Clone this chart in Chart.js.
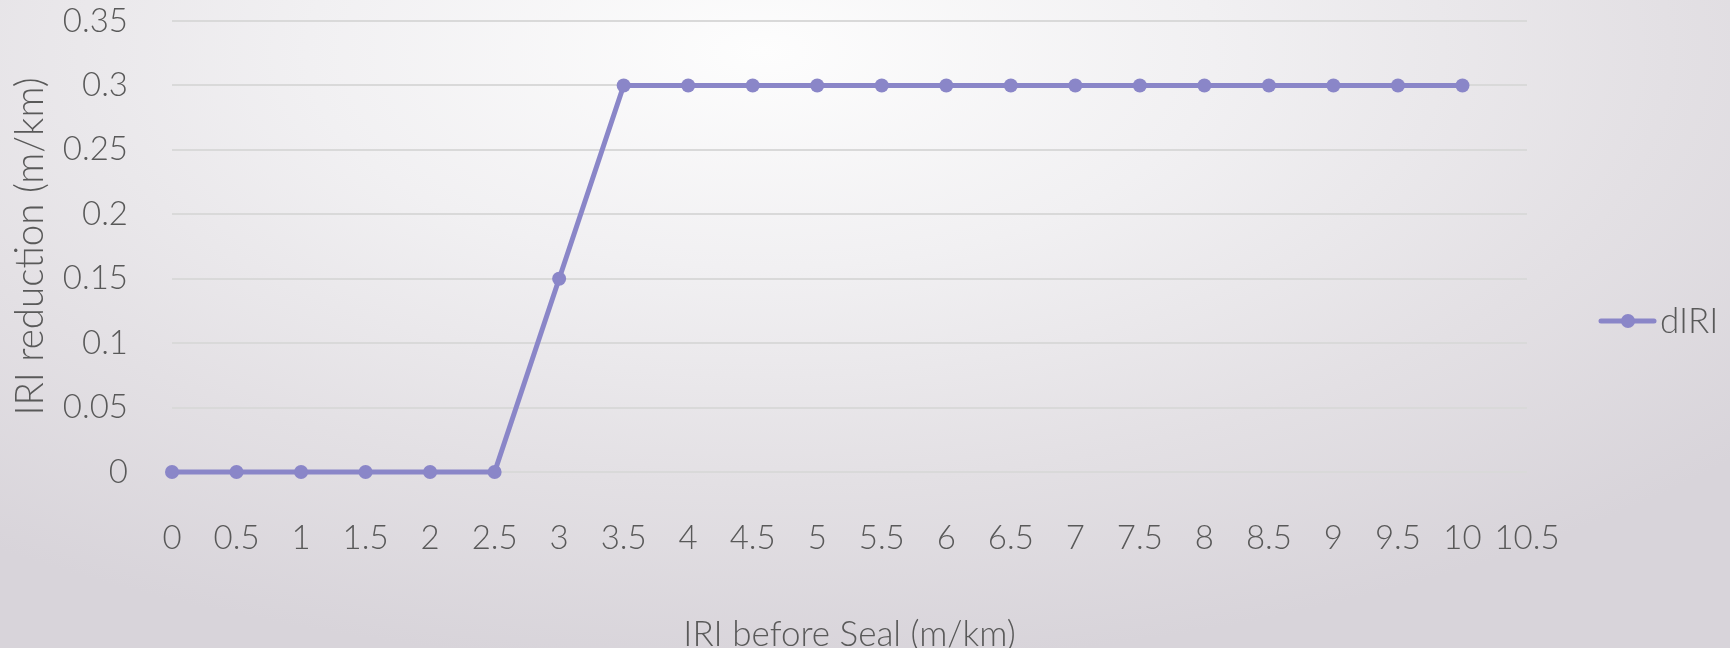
<!DOCTYPE html>
<html>
<head>
<meta charset="utf-8">
<script src="https://cdn.jsdelivr.net/npm/chart.js@4/dist/chart.umd.min.js"></script>
<style>
  html, body { margin: 0; padding: 0; }
  body {
    width: 1730px; height: 648px; overflow: hidden;
    background: radial-gradient(ellipse 75% 95% at 44% 8%, #fdfdfd 0%, #f1f0f2 35%, #e3e0e4 70%, #d8d4da 100%);
  }
  #wrap { position: relative; width: 1730px; height: 648px; }
</style>
</head>
<body>
<div id="wrap"><canvas id="chart" width="1730" height="648"></canvas></div>
<script>
// IRI before seal (m/km)
const iriBefore = [0, 0.5, 1, 1.5, 2, 2.5, 3, 3.5, 4, 4.5, 5, 5.5, 6, 6.5, 7, 7.5, 8, 8.5, 9, 9.5, 10];
// dIRI: reduction in IRI after sealing (m/km)
const dIRI = [0, 0, 0, 0, 0, 0, 0.15, 0.3, 0.3, 0.3, 0.3, 0.3, 0.3, 0.3, 0.3, 0.3, 0.3, 0.3, 0.3, 0.3, 0.3];
const seriesName = 'dIRI';
const xTitle = 'IRI before Seal (m/km)';
const yTitle = 'IRI reduction (m/km)';
const xRange = [0, 10.5, 0.5];
const yRange = [0, 0.35, 0.05];

const lineColor = '#8a86c8';
const textColor = '#595959';
const fontFamily = 'Lato, "Open Sans", sans-serif';

// Tick values shown without trailing zeros (0.3, 1, 10.5)
const plainNumber = v => String(Number(Number(v).toFixed(2)));

// Legend entry drawn at the right: short line with a marker, then the series name
const sideLegend = {
  id: 'sideLegend',
  afterDraw(chart) {
    const ctx = chart.ctx;
    const ds = chart.data.datasets[0];
    const y = 321;
    ctx.save();
    ctx.strokeStyle = ds.borderColor;
    ctx.lineWidth = 5;
    ctx.lineCap = 'round';
    ctx.beginPath();
    ctx.moveTo(1601, y);
    ctx.lineTo(1654, y);
    ctx.stroke();
    ctx.fillStyle = ds.pointBackgroundColor;
    ctx.beginPath();
    ctx.arc(1628, y, 7, 0, Math.PI * 2);
    ctx.fill();
    ctx.fillStyle = textColor;
    ctx.font = '300 35px ' + fontFamily;
    ctx.textBaseline = 'middle';
    ctx.textAlign = 'left';
    ctx.fillText(ds.label, 1660, y + 1);
    ctx.restore();
  }
};

new Chart(document.getElementById('chart'), {
  type: 'line',
  data: {
    datasets: [{
      label: seriesName,
      data: iriBefore.map((x, i) => ({ x: x, y: dIRI[i] })),
      borderColor: lineColor,
      backgroundColor: lineColor,
      pointBackgroundColor: lineColor,
      pointBorderWidth: 0,
      pointRadius: 7,
      borderWidth: 5,
      tension: 0,
      clip: false
    }]
  },
  options: {
    responsive: false,
    animation: false,
    devicePixelRatio: 1,
    layout: { padding: { left: 0, right: 203, top: 21, bottom: 0 } },
    plugins: { legend: { display: false }, tooltip: { enabled: false } },
    scales: {
      x: {
        type: 'linear',
        min: xRange[0], max: xRange[1],
        afterFit(scale) { scale.height = 176; },
        grid: { display: false, drawTicks: false },
        border: { display: false },
        ticks: {
          stepSize: xRange[2],
          padding: 47,
          color: textColor,
          maxRotation: 0,
          autoSkip: false,
          callback: plainNumber,
          font: { family: fontFamily, size: 33, weight: 300 }
        },
        title: {
          display: true, text: xTitle, color: textColor,
          font: { family: fontFamily, size: 35, weight: 300 },
          padding: { top: 0, bottom: -8 }
        }
      },
      y: {
        min: yRange[0], max: yRange[1],
        afterFit(scale) {
          scale.width = 172;
          scale.paddingTop = 0;
          scale.paddingBottom = 0;
        },
        grid: { color: '#d9d9d9', lineWidth: 2, drawTicks: false },
        border: { display: false },
        ticks: {
          stepSize: yRange[2],
          padding: 44,
          color: textColor,
          callback: plainNumber,
          font: { family: fontFamily, size: 33, weight: 300 }
        },
        title: {
          display: true, text: yTitle, color: textColor,
          font: { family: fontFamily, size: 38.5, weight: 300 },
          padding: { top: 7, bottom: 0 }
        }
      }
    }
  },
  plugins: [sideLegend]
});
</script>
</body>
</html>
